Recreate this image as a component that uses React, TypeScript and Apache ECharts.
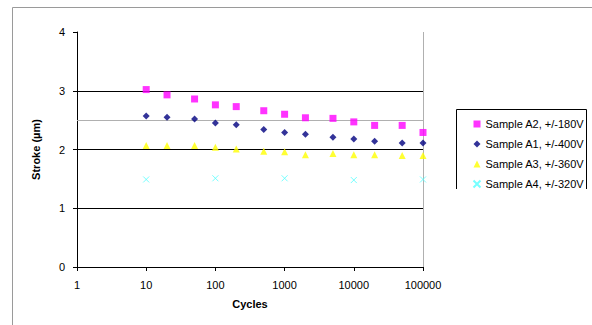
import React, { useEffect, useRef } from "react";
import * as echarts from "echarts";

const cycles = [10, 20, 50, 100, 200, 500, 1000, 2000, 5000, 10000, 20000, 50000, 100000];
const sampleA2 = [3.02, 2.93, 2.86, 2.76, 2.73, 2.66, 2.6, 2.54, 2.53, 2.47, 2.41, 2.41, 2.29];
const sampleA1 = [2.57, 2.55, 2.52, 2.45, 2.42, 2.34, 2.29, 2.26, 2.21, 2.18, 2.14, 2.11, 2.11];
const sampleA3 = [2.07, 2.07, 2.07, 2.04, 2.01, 1.97, 1.96, 1.91, 1.93, 1.91, 1.91, 1.9, 1.9];
const cyclesA4 = [10, 100, 1000, 10000, 100000];
const sampleA4 = [1.49, 1.51, 1.51, 1.48, 1.49];
const seriesNames = [
  "Sample A2, +/-180V",
  "Sample A1, +/-400V",
  "Sample A3, +/-360V",
  "Sample A4, +/-320V",
];
const yTicks = [0, 1, 2, 3, 4];
const refLine = 2.5;

const FONT = "'Liberation Sans', Arial, sans-serif";
const xMarker = "path://M0,0L10,10M10,0L0,10";

export default function App() {
  const ref = useRef<HTMLDivElement>(null);
  useEffect(() => {
    if (!ref.current) return;
    const chart = echarts.init(ref.current, undefined, { renderer: "svg" });
    const pair = (xs: number[], ys: number[]) => xs.map((x, i) => [x, ys[i]]);
    chart.setOption({
      animation: false,
      backgroundColor: "#ffffff",
      textStyle: { fontFamily: FONT },
      grid: { left: 77, right: 169, top: 32, bottom: 58, containLabel: false },
      xAxis: {
        type: "log",
        logBase: 10,
        min: 1,
        max: 100000,
        name: "Cycles",
        nameLocation: "middle",
        nameGap: 31,
        nameTextStyle: { fontFamily: FONT, fontSize: 11, fontWeight: "bold", color: "#000" },
        axisLine: { lineStyle: { color: "#000", width: 1 } },
        axisTick: { show: true, length: 4, lineStyle: { color: "#000" } },
        axisLabel: {
          fontFamily: FONT,
          fontSize: 11,
          color: "#000",
          margin: 12,
          formatter: (v: number) => String(Math.round(v)),
        },
        splitLine: { show: false },
        minorTick: { show: false },
      },
      yAxis: {
        type: "value",
        min: yTicks[0],
        max: yTicks[yTicks.length - 1],
        interval: 1,
        name: "Stroke (µm)",
        nameLocation: "middle",
        nameGap: 36,
        nameRotate: 90,
        nameTextStyle: { fontFamily: FONT, fontSize: 11, fontWeight: "bold", color: "#000" },
        axisLine: { show: true, lineStyle: { color: "#000", width: 1 } },
        axisTick: { show: true, length: 4, lineStyle: { color: "#000" } },
        axisLabel: { fontFamily: FONT, fontSize: 11, color: "#000", margin: 12 },
        splitLine: { show: true, showMaxLine: false, lineStyle: { color: "#000", width: 1 } },
      },
      legend: {
        orient: "vertical",
        left: 466,
        top: 112,
        itemWidth: 7,
        itemHeight: 7,
        itemGap: 6,
        data: seriesNames,
        textStyle: { fontFamily: FONT, fontSize: 11, color: "#000", lineHeight: 14 },
      },
      graphic: [
        {
          type: "rect",
          shape: { x: 12.5, y: 7.5, width: 620, height: 340 },
          style: { fill: "none", stroke: "#9a9a9a", lineWidth: 1 },
          silent: true,
        },
        {
          type: "polyline",
          shape: { points: [[456.5, 189], [456.5, 109.5], [586.5, 109.5], [586.5, 189]] },
          style: { fill: "none", stroke: "#000", lineWidth: 1 },
          silent: true,
        },
      ],
      series: [
        {
          name: seriesNames[0],
          type: "scatter",
          symbol: "rect",
          symbolSize: 7,
          itemStyle: { color: "#ff00ff" },
          data: pair(cycles, sampleA2),
          z: 5,
          markLine: {
            silent: true,
            symbol: "none",
            label: { show: false },
            lineStyle: { color: "#b0b0b0", width: 1, type: "solid" },
            data: [{ yAxis: refLine }, { xAxis: 100000 }],
          },
        },
        {
          name: seriesNames[1],
          type: "scatter",
          symbol: "diamond",
          symbolSize: 7,
          itemStyle: { color: "#000080" },
          data: pair(cycles, sampleA1),
          z: 5,
        },
        {
          name: seriesNames[2],
          type: "scatter",
          symbol: "triangle",
          symbolSize: 7,
          itemStyle: { color: "#ffff00" },
          data: pair(cycles, sampleA3),
          z: 5,
        },
        {
          name: seriesNames[3],
          type: "scatter",
          symbol: xMarker,
          symbolSize: 6,
          itemStyle: { color: "none", borderColor: "#55ffff", borderWidth: 1 },
          data: pair(cyclesA4, sampleA4),
          z: 5,
        },
      ],
    });
    return () => chart.dispose();
  }, []);
  return <div ref={ref} style={{ width: 592, height: 325, position: "absolute", left: 0, top: 0 }} />;
}
